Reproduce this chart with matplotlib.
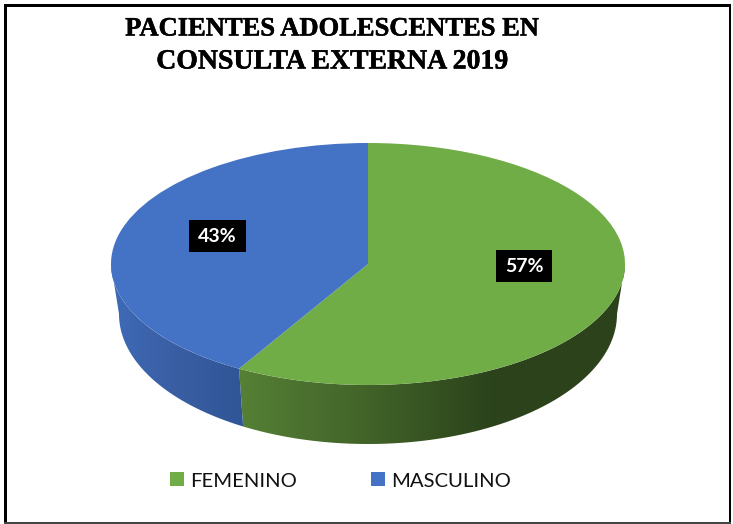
import numpy as np
import matplotlib
matplotlib.use("Agg")
import matplotlib.pyplot as plt
import matplotlib.patheffects as pe
from matplotlib.patches import Patch, Polygon, Rectangle
from matplotlib.transforms import Affine2D

# datos
title_lines = ["PACIENTES ADOLESCENTES EN", "CONSULTA EXTERNA 2019"]
categories = ["FEMENINO", "MASCULINO"]
values = [57, 43]
value_labels = ["57%", "43%"]
top_colors = ["#70AD47", "#4472C4"]

# rampas de color de la pared lateral (x en pixeles, color)
green_ramp_x = [241, 300, 366, 440, 490, 625]
green_ramp = ["#558135", "#4C7230", "#426429", "#345020", "#2C431C", "#2C421B"]
blue_ramp_x = [112, 170, 244]
blue_ramp = ["#3F6BB8", "#3A5FA4", "#2F5596"]

# geometria en pixeles
cx, cy, rx, ry = 368, 264, 257, 121
base_cy, base_rx, base_ry = 314, 249, 130
label_boxes = [(496, 250, 56, 32), (189, 220, 57, 32)]


def perspective(deg):
    # el 3D de Excel abre el angulo visto desde arriba
    return np.degrees(np.arctan2(1.232 * np.sin(np.radians(deg)), np.cos(np.radians(deg)))) % 360


def wall_path(a, b):
    # a, b: angulos horarios desde arriba, parte visible de la pared
    t = np.radians(np.linspace(a, b, 120))
    top = np.column_stack([cx + rx * np.sin(t), cy - ry * np.cos(t)])
    base = np.column_stack([cx + base_rx * np.sin(t), base_cy - base_ry * np.cos(t)])
    return np.vstack([top, base[::-1]])


def draw_wall(ax, path, ramp_x, ramp):
    xs = np.arange(ramp_x[0], ramp_x[-1] + 1)
    rgb = np.array([matplotlib.colors.to_rgb(c) for c in ramp])
    img = np.stack([np.interp(xs, ramp_x, rgb[:, i]) for i in range(3)], axis=1)[None, :, :]
    im = ax.imshow(img, extent=(ramp_x[0] - 3, ramp_x[-1] + 3, 460, 250), aspect="auto", zorder=1)
    clip = Polygon(path, closed=True, transform=ax.transData, fc="none", ec="none")
    ax.add_patch(clip)
    im.set_clip_path(clip)


fig = plt.figure(figsize=(7.33, 5.24), dpi=100)
ax = fig.add_axes([0, 0, 1, 1])
ax.set_xlim(0, 733)
ax.set_ylim(524, 0)
ax.axis("off")

# reparto en pantalla a partir de los valores
total = sum(values)
split = perspective(360 * values[0] / total)
shares = [split, 360 - split]

draw_wall(ax, wall_path(90, split), green_ramp_x, green_ramp)
draw_wall(ax, wall_path(split, 270), blue_ramp_x, blue_ramp)

# tapa de la torta
wedges, _ = ax.pie(shares, colors=top_colors, startangle=90, counterclock=False,
                   frame=False, wedgeprops={"linewidth": 0})
for w in wedges:
    w.set_transform(Affine2D().scale(rx, -ry).translate(cx, cy) + ax.transData)
    w.set_zorder(2)
ax.set_xlim(0, 733)
ax.set_ylim(524, 0)
ax.set_aspect("auto")
ax.axis("off")

# etiquetas
for box, lab in zip(label_boxes, value_labels):
    x, y, w, h = box
    ax.add_patch(Rectangle((x, y), w, h, fc="black", ec="none", zorder=3))
    ax.text(x + w / 2, y + h / 2 + 0.5, lab, color="white", family="Lato", fontweight="bold",
            fontsize=14, ha="center", va="center", zorder=4)

for line, y, size in zip(title_lines, [29, 62], [19.1, 20]):
    ax.text(332, y, line, family="Liberation Serif", fontweight="bold", fontsize=size,
            ha="center", va="center", color="black", zorder=4,
            path_effects=[pe.withStroke(linewidth=0.35, foreground="black")])

handles = [Patch(fc=c, ec="none", label=n) for c, n in zip(top_colors, categories)]
leg = ax.legend(handles=handles, ncol=2, frameon=False, loc="center",
                bbox_to_anchor=(340.5 / 733, 1 - 481 / 524),
                prop={"family": "Lato", "size": 14.6}, handlelength=0.69, handleheight=0.69,
                handletextpad=0.3, columnspacing=3.65, labelcolor="#111111")

# marco de la imagen
ax.add_patch(Rectangle((4, 4), 726, 3, fc="black", ec="none", zorder=5))
ax.add_patch(Rectangle((4, 4), 3, 518, fc="black", ec="none", zorder=5))
ax.add_patch(Rectangle((728.5, 4), 2, 518, fc="black", ec="none", zorder=5))
ax.add_patch(Rectangle((4, 522), 727, 2, fc="#444444", ec="none", zorder=5))

fig.savefig("out.png", dpi=100)
